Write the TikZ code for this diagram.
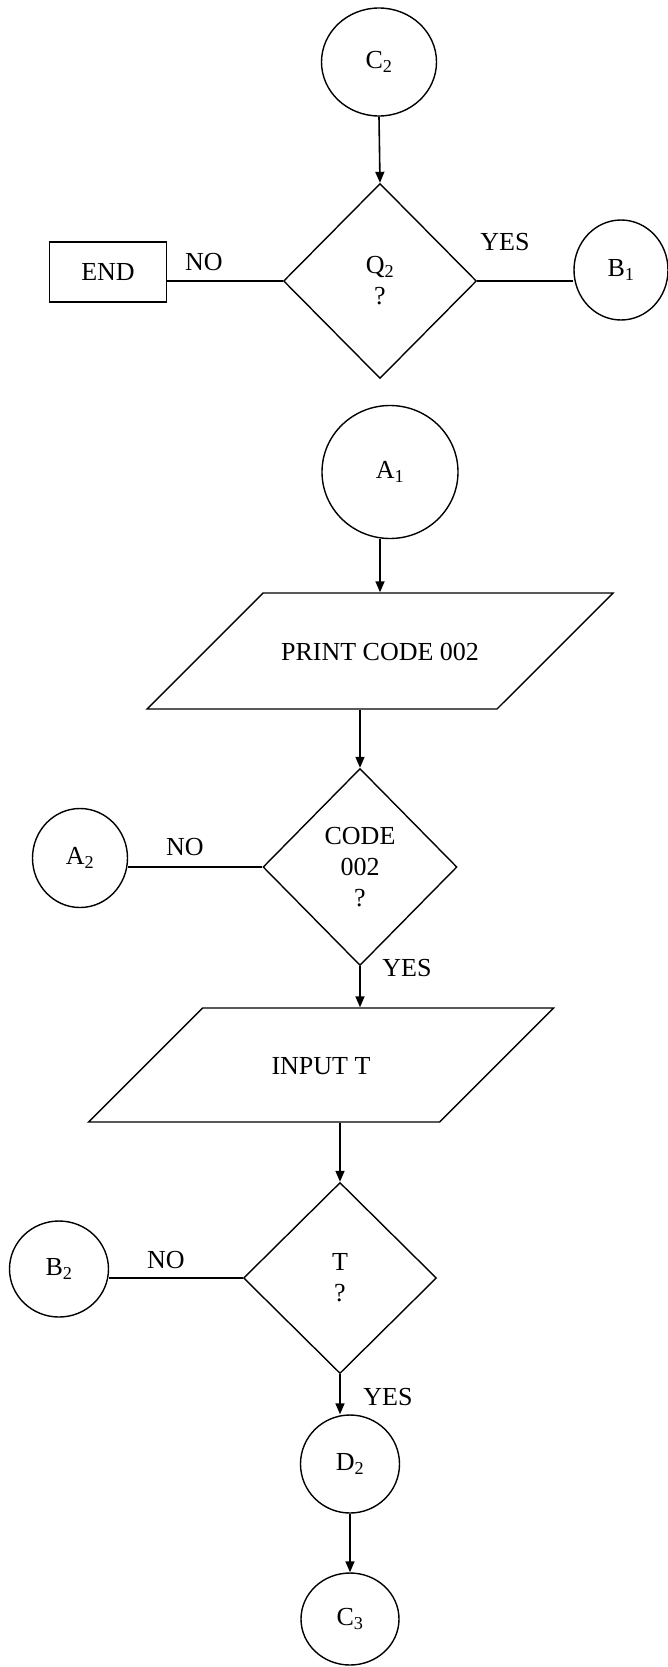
\documentclass[tikz,border=0pt]{standalone}
\usepackage{fontspec}
\setmainfont{Liberation Serif}
\usetikzlibrary{shapes.geometric,arrows.meta}

\tikzset{
  connector/.style={ellipse,draw,line width=1.4pt,inner sep=0pt},
  decision/.style={diamond,draw,line width=1.4pt,inner sep=0pt,align=center},
  inout/.style={trapezium,trapezium left angle=45,trapezium right angle=135,
    trapezium stretches body,draw,line width=1.4pt,inner xsep=0pt,
    text height=18pt,text depth=0pt},
  endbox/.style={rectangle,draw,line width=1.4pt,minimum width=117pt,minimum height=60pt},
  flow/.style={line width=1.6pt,-{Triangle[length=11pt,width=9pt]}},
  branch/.style={line width=1.8pt}
}

\begin{document}
\begin{tikzpicture}[x=1pt,y=-1pt,font=\fontsize{26}{31}\selectfont]
\useasboundingbox (0,0) rectangle (668,1667);

% Question Q2
\node[connector,minimum width=115pt,minimum height=108pt] (c2) at (379,62) {C\textsubscript{2}};
\node[decision,minimum width=193pt,minimum height=195pt] (q2) at (380,281) {Q\textsubscript{2}\\?};
\node[endbox] (end) at (108,272) {END};
\node[connector,minimum width=94pt,minimum height=100pt] (b1) at (621,270) {B\textsubscript{1}};
\draw[flow] (c2.south) -- (q2.north);
\draw[branch] (q2.west) -- (q2.west -| end.east);
\draw[branch] (q2.east) -- (q2.east -| b1.west);
\node (no1) at (204,262) {NO};
\node (yes1) at (505,242) {YES};

% Print and check the code
\node[connector,minimum width=136pt,minimum height=133pt] (a1) at (390,472) {A\textsubscript{1}};
\node[inout,inner ysep=49pt,minimum width=466pt] (print) at (380,651) {PRINT CODE 002};
\node[decision,minimum width=194pt,minimum height=197pt] (code) at (360,867) {CODE\\002\\?};
\node[connector,minimum width=95pt,minimum height=99pt] (a2) at (80,858) {A\textsubscript{2}};
\draw[flow] (a1.south -| print.north) -- (print.north);
\draw[flow] (code.north |- print.south) -- (code.north);
\draw[branch] (code.west) -- (code.west -| a2.east);
\node (no2) at (185,847) {NO};
\node (yes2) at (407,968) {YES};

% Input T and check it
\node[inout,inner ysep=48pt,minimum width=465pt] (input) at (321,1065) {INPUT T};
\node[decision,minimum width=193pt,minimum height=191pt] (t) at (340,1278) {T\\?};
\node[connector,minimum width=99pt,minimum height=96pt] (b2) at (59,1269) {B\textsubscript{2}};
\node[connector,minimum width=99pt,minimum height=98pt] (d2) at (350,1464) {D\textsubscript{2}};
\node[connector,minimum width=98pt,minimum height=92pt] (c3) at (350,1619) {C\textsubscript{3}};
\draw[flow] (code.south) -- (code.south |- input.north);
\draw[flow] (t.north |- input.south) -- (t.north);
\draw[branch] (t.west) -- (t.west -| b2.east);
\draw[flow] (t.south) -- (t.south |- d2.north);
\draw[flow] (d2.south) -- (c3.north);
\node (no3) at (166,1260) {NO};
\node (yes3) at (388,1397) {YES};

\end{tikzpicture}
\end{document}
